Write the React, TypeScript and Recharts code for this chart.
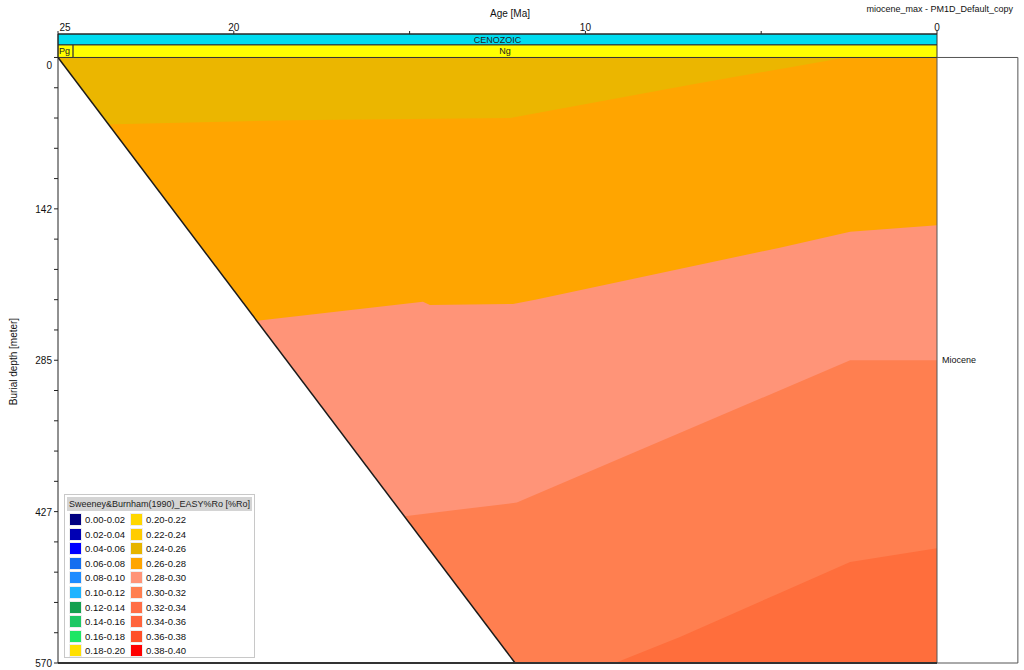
import React from 'react';
import { ComposedChart, Area, XAxis, YAxis, ReferenceArea, ReferenceLine } from 'recharts';

const FONT = "'Liberation Sans', Arial, Helvetica, sans-serif";

type Pt = { age: number; depth: number };

// ---- data (age in Ma, burial depth in m) ----
const sedimentTop: Pt[] = [
  { age: 25, depth: 0 },
  { age: 0, depth: 0 },
];
const boundary026: Pt[] = [
  { age: 23.7, depth: 63 },
  { age: 18.4, depth: 59 },
  { age: 12.14, depth: 57 },
  { age: 6.74, depth: 24 },
  { age: 2.67, depth: 0.5 },
  { age: 0, depth: 0 },
];
const boundary028: Pt[] = [
  { age: 19.4, depth: 248 },
  { age: 14.62, depth: 230 },
  { age: 14.42, depth: 233 },
  { age: 12.06, depth: 232 },
  { age: 11.43, depth: 228 },
  { age: 4.47, depth: 179 },
  { age: 2.47, depth: 164 },
  { age: 0, depth: 158 },
];
const boundary030: Pt[] = [
  { age: 15.2, depth: 432 },
  { age: 11.95, depth: 419 },
  { age: 2.47, depth: 285 },
  { age: 0, depth: 285 },
];
const boundary032: Pt[] = [
  { age: 9.16, depth: 570 },
  { age: 7.31, depth: 545.5 },
  { age: 4.47, depth: 504 },
  { age: 2.47, depth: 475 },
  { age: 0, depth: 462 },
];
const baseHorizon: Pt[] = [
  { age: 25, depth: 0 },
  { age: 12.0, depth: 570 },
];

const bandKeys = ['top', 'b026', 'b028', 'b030', 'b032'];
const bandPoints = [sedimentTop, boundary026, boundary028, boundary030, boundary032];
const bandColors = ['#EBB600', '#FFA500', '#FF9478', '#FF7F50', '#FF6E3C'];

const ageTicks = [25, 20, 15, 10, 5, 0];
const ageTickLabels = ['25', '20', '', '10', '', '0'];
const depthMajor = [0, 142.5, 285, 427.5, 570];
const depthMajorLabels = ['0', '142', '285', '427', '570'];
const depthTicks = Array.from({ length: 21 }, (_, i) => (570 / 20) * i);

const eras = [{ name: 'CENOZOIC', from: 25, to: 0 }];
const periods = [
  { name: 'Pg', from: 25, to: 24.57 },
  { name: 'Ng', from: 24.57, to: 0 },
];
const formations = [{ name: 'Miocene', top: 0, base: 570 }];

const legendTitle = 'Sweeney&Burnham(1990)_EASY%Ro [%Ro]';
const legendLabels = [
  '0.00-0.02', '0.02-0.04', '0.04-0.06', '0.06-0.08', '0.08-0.10',
  '0.10-0.12', '0.12-0.14', '0.14-0.16', '0.16-0.18', '0.18-0.20',
  '0.20-0.22', '0.22-0.24', '0.24-0.26', '0.26-0.28', '0.28-0.30',
  '0.30-0.32', '0.32-0.34', '0.34-0.36', '0.36-0.38', '0.38-0.40',
];
const legendColors = [
  '#000080', '#0000B4', '#0000FF', '#146EF0', '#1E8CFF',
  '#1EB4FF', '#14A050', '#1EC864', '#1EE664', '#FFE000',
  '#FFD700', '#FFCC00', '#E6B400', '#FFA500', '#FF9478',
  '#FF7F50', '#FF6E46', '#FF643C', '#FF5028', '#FF0000',
];

// ---- layout constants ----
const ERA_TOP = -22.1;
const ERA_BASE = -11.8;
const PANEL_AGE = -2.3;

// ---- merged table for recharts ----
const allSeries: [string, Pt[]][] = [
  ...bandKeys.map((k, i) => [k, bandPoints[i]] as [string, Pt[]]),
  ['base', baseHorizon],
];
const ages = Array.from(new Set(allSeries.flatMap(([, pts]) => pts.map((p) => p.age)))).sort((a, b) => b - a);
const table = ages.map((age) => {
  const row: Record<string, number> = { age };
  allSeries.forEach(([k, pts]) => {
    const p = pts.find((q) => q.age === age);
    if (p) row[k] = p.depth;
  });
  return row;
});

const AgeTick = (props: any) => {
  const { x, y, payload } = props;
  const i = ageTicks.indexOf(payload.value);
  const lbl = ageTickLabels[i] ?? '';
  if (!lbl) return null;
  const shift = payload.value === 25 ? 7 : 0;
  return (
    <text x={x + shift} y={y + 1.5} textAnchor="middle" fontSize={10} fontFamily={FONT} fill="#111">
      {lbl}
    </text>
  );
};

const DepthTick = (props: any) => {
  const { x, y, payload } = props;
  const i = depthMajor.findIndex((d) => Math.abs(d - payload.value) < 0.01);
  if (i < 0) return null;
  const dy = payload.value === 0 ? 11.5 : 4;
  return (
    <text x={x} y={y + dy} textAnchor="end" fontSize={10} fontFamily={FONT} fill="#111">
      {depthMajorLabels[i]}
    </text>
  );
};

const AgeTitle = (props: any) => {
  const vb = props.viewBox || {};
  return (
    <text x={vb.x + vb.width / 2 + 12.5} y={17} textAnchor="middle" fontSize={10} fontFamily={FONT} fill="#111">
      Age [Ma]
    </text>
  );
};

const DepthTitle = (props: any) => {
  const vb = props.viewBox || {};
  const cx = 14;
  const cy = vb.y + vb.height / 2 + 13;
  return (
    <text x={cx} y={cy} transform={`rotate(-90, ${cx}, ${cy})`} textAnchor="middle" dominantBaseline="middle" fontSize={10} fontFamily={FONT} fill="#111">
      Burial depth [meter]
    </text>
  );
};

const Legend = () => {
  const half = legendLabels.length / 2;
  return (
    <div
      style={{
        position: 'absolute', left: 64, top: 494, width: 191, height: 164,
        border: '1px solid #c8c8c8', background: '#fff', fontFamily: FONT, boxSizing: 'border-box',
      }}
    >
      <div
        style={{
          position: 'absolute', left: 2, top: 2, right: 2, height: 14, background: '#d4d4d4',
          fontSize: 9, lineHeight: '14px', textAlign: 'center', color: '#222', whiteSpace: 'nowrap',
        }}
      >
        {legendTitle}
      </div>
      {legendLabels.map((lbl, i) => {
        const col = i < half ? 0 : 1;
        const row = i % half;
        const left = col === 0 ? 4 : 65;
        const top = 18 + row * 14.6;
        return (
          <div key={lbl} style={{ position: 'absolute', left, top, height: 13, display: 'flex', alignItems: 'center' }}>
            <div style={{ width: 13, height: 13, background: legendColors[i], border: '1px solid #eee', boxSizing: 'border-box' }} />
            <span style={{ marginLeft: 3, fontSize: 9.5, color: '#111', lineHeight: '13px' }}>{lbl}</span>
          </div>
        );
      })}
    </div>
  );
};

export default function App() {
  return (
    <div style={{ position: 'absolute', left: 0, top: 0, width: 1024, height: 670, background: '#fff' }}>
      <ComposedChart
        width={1024}
        height={670}
        data={table}
        margin={{ top: 0, right: 87, bottom: 7, left: 0 }}
      >
        <XAxis
          dataKey="age"
          type="number"
          domain={[0, 25]}
          reversed
          allowDataOverflow
          orientation="top"
          height={34}
          ticks={ageTicks}
          interval={0}
          tickSize={3}
          tick={<AgeTick />}
          stroke="#222"
          label={<AgeTitle />}
        />
        <YAxis
          type="number"
          domain={[ERA_TOP, 570]}
          reversed
          allowDataOverflow
          width={58}
          ticks={depthTicks}
          interval={0}
          tickSize={4}
          tick={<DepthTick />}
          stroke="#222"
          label={<DepthTitle />}
        />
        {bandKeys.map((k, i) => (
          <Area
            key={k}
            dataKey={k}
            type="linear"
            baseValue={570}
            connectNulls
            stroke="none"
            fill={bandColors[i]}
            fillOpacity={1}
            dot={false}
            activeDot={false}
            isAnimationActive={false}
          />
        ))}
        <Area
          dataKey="base"
          type="linear"
          baseValue={570}
          connectNulls
          stroke="#1a1a1a"
          strokeWidth={1.5}
          fill="#ffffff"
          fillOpacity={1}
          dot={false}
          activeDot={false}
          isAnimationActive={false}
        />
        <ReferenceLine y={570} stroke="#333" strokeWidth={2} ifOverflow="visible" />
        {eras.map((e) => (
          <ReferenceArea
            key={e.name}
            x1={e.from}
            x2={e.to}
            y1={ERA_TOP}
            y2={ERA_BASE}
            fill="#00DCF0"
            fillOpacity={1}
            stroke="#333"
            ifOverflow="visible"
            label={{ value: e.name, position: 'center', fontSize: 9, fontFamily: FONT, fill: '#222' }}
          />
        ))}
        {periods.map((p) => (
          <ReferenceArea
            key={p.name}
            x1={p.from}
            x2={p.to}
            y1={ERA_BASE}
            y2={0}
            fill="#FFFF00"
            fillOpacity={1}
            stroke="#333"
            ifOverflow="visible"
            label={{
              value: p.name,
              position: p.name === 'Pg' ? 'insideLeft' : 'center',
              offset: 1,
              fontSize: 9,
              fontFamily: FONT,
              fill: '#222',
            }}
          />
        ))}
        {formations.map((f) => (
          <ReferenceArea
            key={f.name}
            x1={0}
            x2={PANEL_AGE}
            y1={f.top}
            y2={f.base}
            fill="#ffffff"
            fillOpacity={1}
            stroke="#555"
            ifOverflow="visible"
            label={{ value: f.name, position: 'insideLeft', offset: 5, fontSize: 9, fontFamily: FONT, fill: '#111' }}
          />
        ))}
      </ComposedChart>
      <div
        style={{
          position: 'absolute', right: 11, top: 4, fontSize: 9, fontFamily: FONT, color: '#111', whiteSpace: 'nowrap',
        }}
      >
        miocene_max - PM1D_Default_copy
      </div>
      <Legend />
    </div>
  );
}
